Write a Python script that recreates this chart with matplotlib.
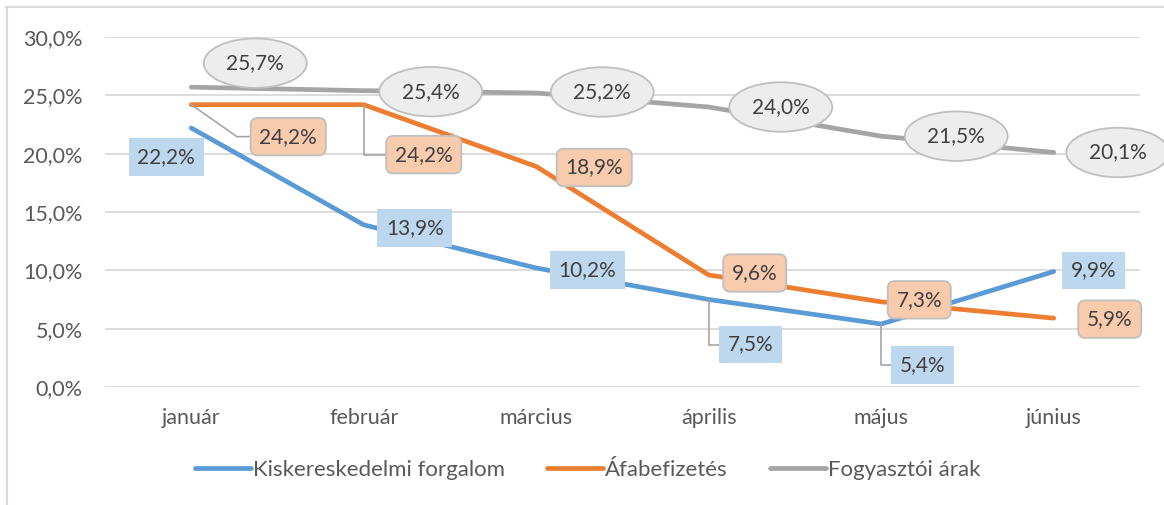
import matplotlib
matplotlib.use("Agg")
import matplotlib.pyplot as plt
from matplotlib.lines import Line2D

months = ["január", "február", "március", "április", "május", "június"]
kisker = [22.2, 13.9, 10.2, 7.5, 5.4, 9.9]
afa = [24.2, 24.2, 18.9, 9.6, 7.3, 5.9]
fogyaszt = [25.7, 25.4, 25.2, 24.0, 21.5, 20.1]
series_names = ["Kiskereskedelmi forgalom", "Áfabefizetés", "Fogyasztói árak"]
yticks = [0, 5, 10, 15, 20, 25, 30]

# label offsets in pixels (dx, dy) relative to the data point
kisker_off = [(-25, -29), (51, -3), (51, -2), (42, -45), (41, -41), (40, 1)]
afa_off = [(97, -32), (60, -50), (58, -1), (46, 2), (38, 2), (56, -1)]
fogy_off = [(64, 24), (67, -1), (66, 1), (72, 0), (75, 0), (64, 0)]
afa_leader = {0: "angle,angleA=0,angleB=145", 1: "angle,angleA=0,angleB=90"}
kisker_leader = {3: "angle,angleA=0,angleB=90", 4: "angle,angleA=0,angleB=90"}

plt.rcParams['font.family'] = ['Lato', 'DejaVu Sans']

fig = plt.figure(figsize=(11.64, 5.05), dpi=100)
ax = fig.add_axes([105 / 1164, 1 - 387 / 505, (1140 - 105) / 1164, 350 / 505])

colors = ["#5B9BD5", "#ED7D31", "#A5A5A5"]
x = list(range(len(months)))
for vals, col, name in zip([kisker, afa, fogyaszt], colors, series_names):
    ax.plot(x, vals, color=col, lw=3.4, solid_capstyle='round', label=name, zorder=3)

ax.set_xlim(-0.5, len(months) - 0.5)
ax.set_ylim(0, 30)
ax.set_yticks(yticks)
ax.set_yticklabels([f"{v:.1f}%".replace(".", ",") for v in yticks])
ax.set_xticks(x)
ax.set_xticklabels(months)
ax.tick_params(length=0, labelsize=15.5, labelcolor="#595959")
ax.tick_params(axis='y', pad=16)
ax.tick_params(axis='x', pad=15)
ax.grid(axis='y', color="#D9D9D9", lw=1.3)
ax.set_axisbelow(True)
for s in ax.spines.values():
    s.set_visible(False)


def fmt(v):
    return f"{v:.1f}%".replace(".", ",")


def put_labels(vals, offs, box, leaders):
    for i, (v, (dx, dy)) in enumerate(zip(vals, offs)):
        arrow = None
        if i in leaders:
            arrow = dict(arrowstyle='-', color="#A5A5A5", lw=1.2,
                         connectionstyle=leaders[i], shrinkA=0, shrinkB=0)
        ax.annotate(fmt(v), (i, v), xytext=(dx * 0.72, dy * 0.72),
                    textcoords='offset points', ha='center', va='center',
                    fontsize=15, color="#404040", bbox=box, arrowprops=arrow,
                    zorder=5, annotation_clip=False)


put_labels(kisker, kisker_off,
           dict(boxstyle='square,pad=0.42', fc="#BDD7EE", ec='none'), kisker_leader)
put_labels(afa, afa_off,
           dict(boxstyle='round,pad=0.42,rounding_size=0.35', fc="#F8CBAD", ec="#BFBFBF", lw=1.3), afa_leader)
put_labels(fogyaszt, fogy_off,
           dict(boxstyle='ellipse,pad=0.36', fc="#EDEDED", ec="#BFBFBF", lw=1.3), {})

leg = fig.legend(loc='center', bbox_to_anchor=(0.505, 1 - 470 / 505), ncol=3, frameon=False,
                 fontsize=16, labelcolor="#595959", handlelength=2.5, handletextpad=0.1,
                 columnspacing=1.9)

# chart frame
fig.add_artist(Line2D([6 / 1164, 1], [1 - 7 / 505, 1 - 7 / 505], color="#D9D9D9", lw=1.5))
fig.add_artist(Line2D([7 / 1164, 7 / 1164], [0, 1 - 7 / 505], color="#D9D9D9", lw=1.5))

fig.savefig("out.png", dpi=100)
